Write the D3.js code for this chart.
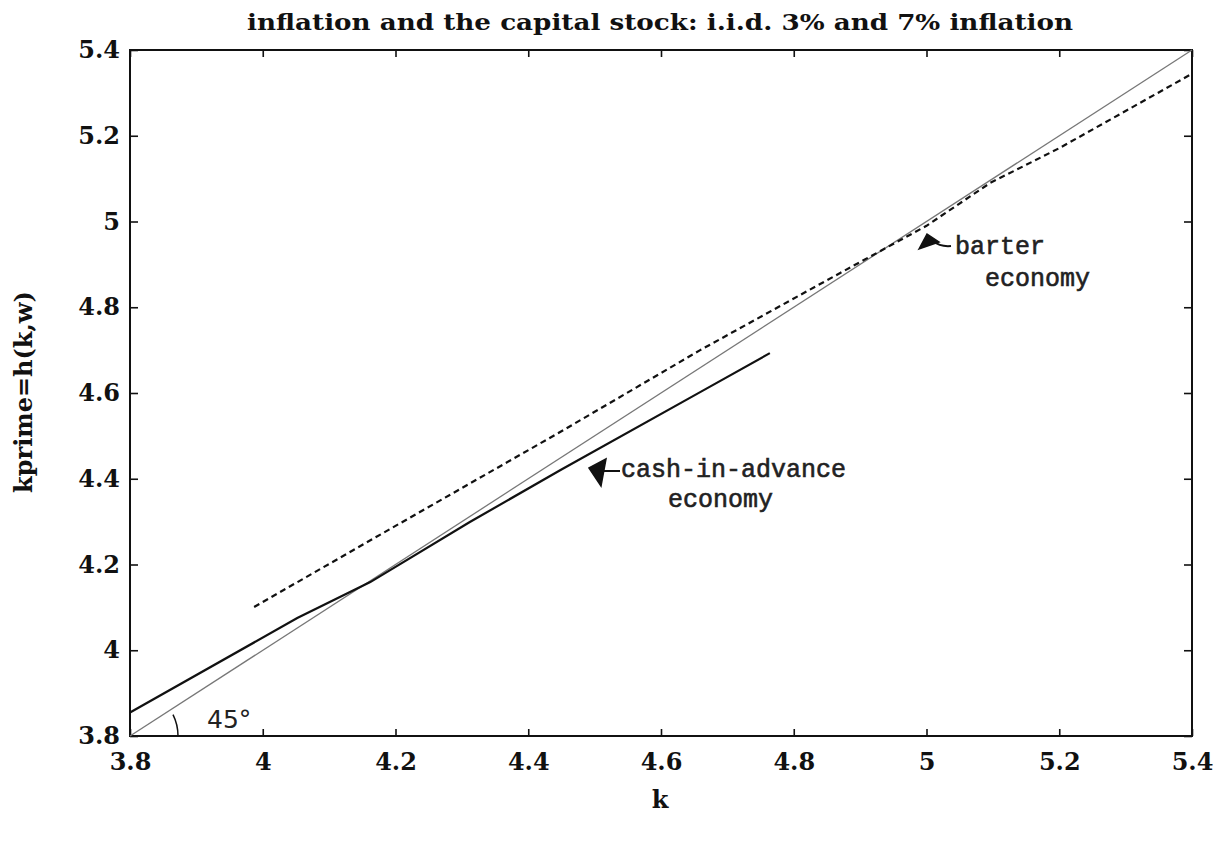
<!DOCTYPE html>
<html>
<head>
<meta charset="utf-8">
<script src="https://cdn.jsdelivr.net/npm/d3@7"></script>
<style>
  body { margin: 0; background: #fff; }
  svg { display: block; }
</style>
</head>
<body>
<svg id="chart"></svg>
<script>
const width = 1226;
const height = 844;

// tick values and labels
const tickValues = [3.8, 4, 4.2, 4.4, 4.6, 4.8, 5, 5.2, 5.4];
const tickLabels = ["3.8", "4", "4.2", "4.4", "4.6", "4.8", "5", "5.2", "5.4"];

// cash-in-advance economy decision rule (solid)
const ciaK      = [3.8, 4.052, 4.162, 4.312, 4.448, 4.659, 4.764];
const ciaKprime = [3.855, 4.075, 4.159, 4.299, 4.42, 4.602, 4.693];

// barter economy decision rule (dashed)
const barterK      = [3.987, 4.2, 4.448, 4.659, 4.87, 5.0, 5.096, 5.2, 5.397];
const barterKprime = [4.101, 4.29, 4.509, 4.7, 4.88, 4.99, 5.09, 5.171, 5.342];

// 45 degree line
const diagK = [3.8, 5.4];

const margin = { top: 50, right: 34, bottom: 108, left: 130 };
const innerW = width - margin.left - margin.right;
const innerH = height - margin.top - margin.bottom;

const svg = d3.select("#chart")
    .attr("width", width)
    .attr("height", height);

const x = d3.scaleLinear().domain([3.8, 5.4]).range([margin.left, margin.left + innerW]);
const y = d3.scaleLinear().domain([3.8, 5.4]).range([margin.top + innerH, margin.top]);

const serif = "'DejaVu Serif', serif";
const mono = "'Liberation Mono', 'DejaVu Sans Mono', monospace";

// title
svg.append("text")
    .attr("x", 660)
    .attr("y", 30)
    .attr("text-anchor", "middle")
    .attr("font-family", serif)
    .attr("font-weight", "bold")
    .attr("font-size", "22px")
    .attr("fill", "#111")
    .attr("textLength", 826)
    .attr("lengthAdjust", "spacingAndGlyphs")
    .text("inflation and the capital stock: i.i.d. 3% and 7% inflation");

// axes
const fmt = (d, i) => tickLabels[i];

svg.append("g")
    .attr("transform", `translate(0,${y(3.8)})`)
    .call(d3.axisBottom(x).tickValues(tickValues).tickFormat(fmt).tickSizeInner(-7).tickSizeOuter(0).tickPadding(17));

svg.append("g")
    .attr("transform", `translate(${x(3.8)},0)`)
    .call(d3.axisLeft(y).tickValues(tickValues).tickFormat(fmt).tickSizeInner(-8).tickSizeOuter(0).tickPadding(10));

svg.append("g")
    .attr("transform", `translate(0,${y(5.4)})`)
    .call(d3.axisTop(x).tickValues(tickValues).tickFormat("").tickSizeInner(-7).tickSizeOuter(0));

svg.append("g")
    .attr("transform", `translate(${x(5.4)},0)`)
    .call(d3.axisRight(y).tickValues(tickValues).tickFormat("").tickSizeInner(-8).tickSizeOuter(0));

svg.selectAll(".domain").remove();
svg.selectAll(".tick line").attr("stroke", "#111").attr("stroke-width", 1.6);
svg.selectAll(".tick text")
    .attr("font-family", serif)
    .attr("font-weight", "bold")
    .attr("font-size", "24px")
    .attr("fill", "#111");

// frame
svg.append("rect")
    .attr("x", x(3.8))
    .attr("y", y(5.4))
    .attr("width", x(5.4) - x(3.8))
    .attr("height", y(3.8) - y(5.4))
    .attr("fill", "none")
    .attr("stroke", "#111")
    .attr("stroke-width", 2);

// axis titles
svg.append("text")
    .attr("x", 660)
    .attr("y", 808)
    .attr("text-anchor", "middle")
    .attr("font-family", serif)
    .attr("font-weight", "bold")
    .attr("font-size", "24px")
    .attr("fill", "#111")
    .text("k");

svg.append("text")
    .attr("transform", "translate(32,392) rotate(-90)")
    .attr("text-anchor", "middle")
    .attr("font-family", serif)
    .attr("font-weight", "bold")
    .attr("font-size", "24px")
    .attr("fill", "#111")
    .text("kprime=h(k,w)");

// lines
const line = d3.line()
    .x(d => x(d[0]))
    .y(d => y(d[1]));

svg.append("path")
    .datum(diagK.map(k => [k, k]))
    .attr("d", line)
    .attr("fill", "none")
    .attr("stroke", "#777")
    .attr("stroke-width", 1.3);

svg.append("path")
    .datum(ciaK.map((k, i) => [k, ciaKprime[i]]))
    .attr("d", line)
    .attr("fill", "none")
    .attr("stroke", "#111")
    .attr("stroke-width", 2.2);

svg.append("path")
    .datum(barterK.map((k, i) => [k, barterKprime[i]]))
    .attr("d", line)
    .attr("fill", "none")
    .attr("stroke", "#111")
    .attr("stroke-width", 2.2)
    .attr("stroke-dasharray", "6,4");

// 45 degree mark
const r = 48;
const a0 = 0.46;
svg.append("path")
    .attr("d", `M${x(3.8) + r * Math.cos(a0)},${y(3.8) - r * Math.sin(a0)} A${r},${r} 0 0 1 ${x(3.8) + r},${y(3.8)}`)
    .attr("fill", "none")
    .attr("stroke", "#111")
    .attr("stroke-width", 1.5);

svg.append("text")
    .attr("x", 207)
    .attr("y", 728)
    .attr("font-family", "'DejaVu Sans', sans-serif")
    .attr("font-size", "25px")
    .attr("fill", "#222")
    .text("45°");

// annotations
function note(lines, px, py, lineH) {
    lines.forEach((t, i) => {
        svg.append("text")
            .attr("x", px[i])
            .attr("y", py + i * lineH)
            .attr("font-family", mono)
            .attr("font-size", "25px")
            .attr("fill", "#222")
            .attr("stroke", "#222")
            .attr("stroke-width", 0.6)
            .text(t);
    });
}

note(["barter", "economy"], [955, 985], 254, 32);
note(["cash-in-advance", "economy"], [621, 668], 477, 30);

// arrow: barter
svg.append("path")
    .attr("d", "M919,249 L927,234 L939,242 Z")
    .attr("fill", "#111")
    .attr("stroke", "#111")
    .attr("stroke-width", 1.5);
svg.append("path")
    .attr("d", "M933,241 Q940,247 951,246")
    .attr("fill", "none")
    .attr("stroke", "#111")
    .attr("stroke-width", 2);

// arrow: cash-in-advance
svg.append("path")
    .attr("d", "M589,468 L606,459 L601,486 Z")
    .attr("fill", "#111")
    .attr("stroke", "#111")
    .attr("stroke-width", 1.5);
svg.append("path")
    .attr("d", "M603,471 L620,471")
    .attr("fill", "none")
    .attr("stroke", "#111")
    .attr("stroke-width", 2);
</script>
</body>
</html>
